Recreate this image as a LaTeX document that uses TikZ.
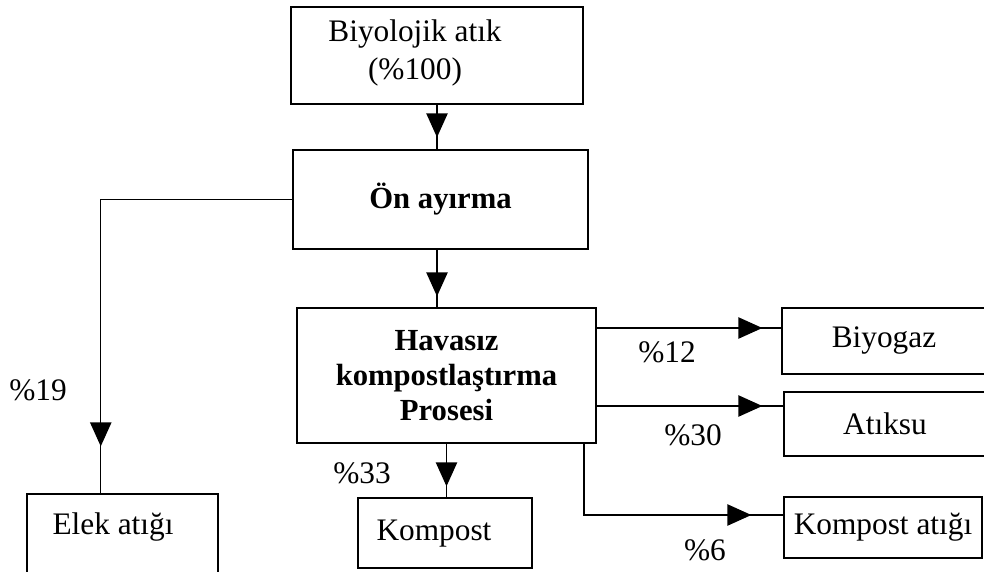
\documentclass[tikz,border=0pt]{standalone}
\usepackage{fontspec}
\setmainfont{Liberation Serif}
\usetikzlibrary{arrows.meta,decorations.markings,calc}
\tikzset{
  box/.style={draw, line width=1pt, inner sep=0pt},
  lbl/.style={font=\fontsize{23.5}{27}\selectfont, align=center, inner sep=0pt},
  blbl/.style={lbl, font=\fontsize{23}{26.25}\selectfont\bfseries},
  flow/.style={line width=1pt},
  tipat/.style={postaction={decorate}, decoration={markings,
      mark=at position -#1 with {\arrow{Triangle[length=18pt,width=16pt]}}}},
}
\begin{document}
\begin{tikzpicture}[x=0.75pt, y=-0.75pt]
\useasboundingbox (0,0) rectangle (984,571);
% boxes
\node[box, minimum width=219pt, minimum height=72.75pt] (bio) at (437,55.5) {};
\node[lbl] (biot) at (415,53) {Biyolojik atık\\[2pt](\%100)};
\node[box, blbl, minimum width=221.25pt, minimum height=74.25pt] (on) at (440.5,199.5) {Ön ayırma};
\node[box, blbl, minimum width=224.25pt, minimum height=101.25pt] (hav) at (446.5,375.5) {Havasız\\kompostlaştırma\\Prosesi};
\node[box, lbl, minimum width=153pt, minimum height=49.5pt] (biyogaz) at (884,341) {Biyogaz};
\node[box, lbl, minimum width=151.5pt, minimum height=48pt] (atiksu) at (885,424) {Atıksu};
\node[box, lbl, minimum width=148.5pt, minimum height=45.75pt] (katik) at (883,527.5) {Kompost atığı};
\node[box, minimum width=130.5pt, minimum height=52.5pt] (kompost) at (445,533) {};
\node[lbl] (kompostt) at (434,534) {Kompost};
\node[box, minimum width=143.25pt, minimum height=94.5pt] (elek) at (122.5,557) {};
\node[lbl] (elekt) at (113,527) {Elek atığı};
% connectors
\draw[flow, tipat=9pt] (bio.south) -- (bio.south |- on.north);
\draw[flow, tipat=8.25pt] (bio.south |- on.south) -- (bio.south |- hav.north);
\draw[flow, tipat=35.25pt] (on.west) -| ($(elek.north west)!0.387!(elek.north east)$);
\draw[flow, tipat=14.25pt] (hav.east |- 0,328) -- (biyogaz.west |- 0,328);
\draw[flow, tipat=15.75pt] (hav.east |- 0,406) -- (atiksu.west |- 0,406);
\draw[flow, tipat=24pt] (hav.south -| 584,0) |- (katik.west |- 0,515);
\draw[flow, tipat=8.25pt] (hav.south) -- (hav.south |- kompost.north);
% percentages
\node[lbl] (p19) at (38,390) {\%19};
\node[lbl] (p33) at (362,473) {\%33};
\node[lbl] (p12) at (667,352) {\%12};
\node[lbl] (p30) at (693,435) {\%30};
\node[lbl] (p6) at (705,550) {\%6};
\end{tikzpicture}
\end{document}
